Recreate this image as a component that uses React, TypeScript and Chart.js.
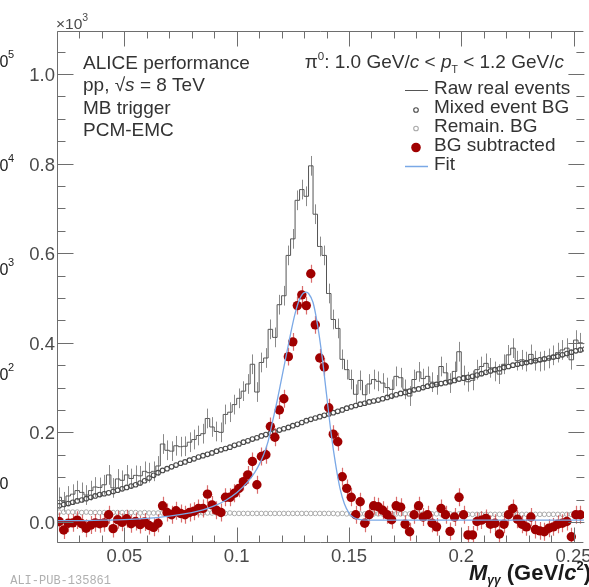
import React, { useEffect, useRef } from 'react';
import { Chart, registerables } from 'chart.js';

Chart.register(...registerables);

// ---------------- data ----------------
const MASS_MIN = 0.02; // lower edge of first bin (GeV/c^2)
const BIN_WIDTH = 0.002;
const X_MIN = 0.02;
const X_MAX = 0.2546;
const Y_MIN = -0.047;
const Y_MAX = 1.096;

const X_TICKS = [0.05, 0.1, 0.15, 0.2, 0.25];
const X_TICK_LABELS = ['0.05', '0.1', '0.15', '0.2', '0.25'];
const Y_TICKS = [0, 0.2, 0.4, 0.6, 0.8, 1.0];
const Y_TICK_LABELS = ['0.0', '0.2', '0.4', '0.6', '0.8', '1.0'];

// Raw real events (x10^3 counts) per bin
const RAW = [
  0.055, 0.045, 0.058, 0.062, 0.070, 0.066, 0.060, 0.070, 0.078, 0.077,
  0.083, 0.105, 0.076, 0.096, 0.093, 0.105, 0.097, 0.104, 0.103, 0.113,
  0.110, 0.113, 0.125, 0.174, 0.160, 0.158, 0.170, 0.168, 0.169, 0.178,
  0.184, 0.193, 0.197, 0.231, 0.212, 0.202, 0.200, 0.240, 0.245, 0.262,
  0.276, 0.292, 0.308, 0.352, 0.290, 0.356, 0.366, 0.430, 0.412, 0.485,
  0.505, 0.595, 0.632, 0.718, 0.742, 0.727, 0.795, 0.687, 0.615, 0.595,
  0.510, 0.452, 0.432, 0.363, 0.340, 0.318, 0.285, 0.316, 0.284, 0.308,
  0.318, 0.314, 0.310, 0.300, 0.296, 0.325, 0.322, 0.296, 0.281, 0.318,
  0.335, 0.320, 0.325, 0.312, 0.306, 0.347, 0.333, 0.310, 0.336, 0.380,
  0.327, 0.313, 0.316, 0.340, 0.347, 0.354, 0.344, 0.336, 0.330, 0.352,
  0.373, 0.388, 0.360, 0.362, 0.358, 0.374, 0.360, 0.358, 0.360, 0.365,
  0.372, 0.378, 0.384, 0.388, 0.362, 0.406, 0.400, 0.398,
];

// Mixed event background per bin
const MIXED = [
  0.036, 0.039, 0.041, 0.044, 0.047, 0.049, 0.052, 0.055, 0.058, 0.061,
  0.063, 0.065, 0.068, 0.071, 0.074, 0.077, 0.080, 0.083, 0.087, 0.092,
  0.098, 0.104, 0.110, 0.115, 0.119, 0.123, 0.127, 0.131, 0.134, 0.138,
  0.141, 0.145, 0.148, 0.151, 0.154, 0.158, 0.161, 0.164, 0.167, 0.171,
  0.174, 0.178, 0.181, 0.185, 0.188, 0.192, 0.195, 0.198, 0.201, 0.205,
  0.208, 0.211, 0.215, 0.218, 0.222, 0.226, 0.229, 0.232, 0.235, 0.238,
  0.241, 0.244, 0.247, 0.250, 0.254, 0.257, 0.260, 0.263, 0.265, 0.268,
  0.270, 0.272, 0.275, 0.278, 0.281, 0.284, 0.287, 0.289, 0.292, 0.295,
  0.297, 0.300, 0.303, 0.305, 0.307, 0.309, 0.311, 0.313, 0.316, 0.319,
  0.321, 0.323, 0.325, 0.328, 0.331, 0.334, 0.337, 0.340, 0.342, 0.345,
  0.347, 0.350, 0.352, 0.354, 0.356, 0.358, 0.360, 0.362, 0.364, 0.366,
  0.368, 0.370, 0.373, 0.376, 0.379, 0.382, 0.384, 0.386,
];

// Remaining background per bin
const REMAIN = [
  0.022, 0.022, 0.022, 0.022, 0.022, 0.021, 0.022, 0.021, 0.021, 0.021,
  0.021, 0.021, 0.021, 0.021, 0.021, 0.021, 0.021, 0.021, 0.020, 0.021,
  0.020, 0.020, 0.020, 0.020, 0.020, 0.020, 0.020, 0.020, 0.020, 0.020,
  0.020, 0.020, 0.020, 0.020, 0.020, 0.020, 0.020, 0.019, 0.020, 0.019,
  0.019, 0.019, 0.019, 0.019, 0.019, 0.019, 0.019, 0.019, 0.019, 0.019,
  0.019, 0.019, 0.019, 0.019, 0.019, 0.019, 0.019, 0.019, 0.019, 0.019,
  0.019, 0.019, 0.018, 0.019, 0.018, 0.018, 0.018, 0.018, 0.018, 0.018,
  0.018, 0.018, 0.018, 0.018, 0.018, 0.018, 0.018, 0.018, 0.018, 0.018,
  0.018, 0.018, 0.018, 0.018, 0.018, 0.018, 0.018, 0.018, 0.017, 0.018,
  0.017, 0.017, 0.017, 0.017, 0.017, 0.017, 0.017, 0.017, 0.017, 0.017,
  0.017, 0.017, 0.017, 0.017, 0.017, 0.017, 0.017, 0.017, 0.017, 0.017,
  0.017, 0.017, 0.017, 0.017, 0.017, 0.017, 0.017, 0.017,
];

// Background-subtracted signal per bin
const SUB = [
  0.001, -0.018, -0.003, -0.002, 0.004, -0.004, -0.014, -0.007, -0.002, -0.004,
  -0.002, 0.016, -0.015, 0.005, -0.001, 0.007, -0.004, 0.001, -0.006, 0.000,
  -0.008, -0.012, -0.003, 0.036, 0.021, 0.016, 0.025, 0.019, 0.016, 0.021,
  0.024, 0.030, 0.030, 0.062, 0.038, 0.026, 0.021, 0.055, 0.055, 0.064,
  0.075, 0.090, 0.105, 0.135, 0.083, 0.146, 0.150, 0.213, 0.189, 0.250,
  0.275, 0.369, 0.402, 0.483, 0.507, 0.483, 0.554, 0.440, 0.366, 0.346,
  0.255, 0.196, 0.179, 0.101, 0.075, 0.055, 0.016, 0.045, -0.003, 0.016,
  0.036, 0.034, 0.026, 0.016, 0.005, 0.036, 0.033, -0.005, -0.022, 0.016,
  0.036, 0.011, 0.016, -0.003, -0.011, 0.030, 0.016, -0.021, 0.011, 0.055,
  0.016, -0.029, -0.029, 0.001, 0.004, 0.008, -0.005, -0.003, -0.027, -0.005,
  0.016, 0.030, 0.006, -0.005, -0.011, 0.011, -0.017, -0.020, -0.022, -0.014,
  -0.011, -0.005, -0.003, 0.001, -0.033, 0.016, 0.016,
];

const RAW_ERR = 0.022;
const SUB_ERR = 0.02;

// Fit curve
const FIT_X = [
  0.020, 0.030, 0.040, 0.050, 0.060, 0.070, 0.080, 0.085, 0.090, 0.095,
  0.100, 0.105, 0.108, 0.110, 0.112, 0.114, 0.116, 0.118, 0.120, 0.122,
  0.124, 0.126, 0.128, 0.130, 0.131, 0.132, 0.134, 0.136, 0.138, 0.140,
  0.142, 0.144, 0.146, 0.148, 0.150, 0.152, 0.155, 0.160, 0.200, 0.2546,
];
const FIT_Y = [
  0.003, 0.003, 0.004, 0.005, 0.008, 0.013, 0.021, 0.027, 0.036, 0.048,
  0.065, 0.090, 0.110, 0.128, 0.150, 0.180, 0.225, 0.270, 0.320, 0.370,
  0.420, 0.465, 0.497, 0.512, 0.513, 0.510, 0.490, 0.440, 0.370, 0.285,
  0.200, 0.130, 0.075, 0.040, 0.020, 0.010, 0.005, 0.004, 0.004, 0.004,
];

// ---------------- helpers ----------------
const FONT = '"Liberation Sans", Arial, Helvetica, sans-serif';
const TXT = 19;
const binCenter = (i: number) => MASS_MIN + BIN_WIDTH * (i + 0.5);
const toPts = (arr: number[]) => arr.map((v, i) => ({ x: binCenter(i), y: v }));

type Part = { t: string; font: string; dy?: number };
function drawRich(ctx: CanvasRenderingContext2D, parts: Part[], x: number, y: number, align: 'left' | 'right') {
  let total = 0;
  for (const p of parts) {
    ctx.font = p.font;
    total += ctx.measureText(p.t).width;
  }
  let cx = align === 'right' ? x - total : x;
  ctx.textAlign = 'left';
  ctx.textBaseline = 'alphabetic';
  for (const p of parts) {
    ctx.font = p.font;
    ctx.fillText(p.t, cx, y + (p.dy || 0));
    cx += ctx.measureText(p.t).width;
  }
}

const errorBarPlugin = {
  id: 'errorBars',
  beforeDatasetDraw(chart: any, args: any) {
    const ds = chart.data.datasets[args.index];
    if (ds.errorBar === undefined) return;
    const ctx: CanvasRenderingContext2D = chart.ctx;
    const ys = chart.scales.y;
    const area = chart.chartArea;
    ctx.save();
    ctx.beginPath();
    ctx.rect(area.left, area.top, area.right - area.left, area.bottom - area.top);
    ctx.clip();
    ctx.strokeStyle = ds.errorBarColor;
    ctx.lineWidth = ds.errorBarWidth || 1;
    ctx.beginPath();
    args.meta.data.forEach((pt: any, i: number) => {
      const v = ds.data[i].y;
      const top = ys.getPixelForValue(v + ds.errorBar);
      const bot = ys.getPixelForValue(v - ds.errorBar);
      ctx.moveTo(Math.round(pt.x) + 0.5, top);
      ctx.lineTo(Math.round(pt.x) + 0.5, bot);
    });
    ctx.stroke();
    ctx.restore();
  },
};

const decorPlugin = {
  id: 'decor',
  afterDraw(chart: any) {
    const ctx: CanvasRenderingContext2D = chart.ctx;
    const xs = chart.scales.x;
    const ys = chart.scales.y;
    const a = chart.chartArea;
    const L = a.left + 0.5;
    const R = a.right - 0.5;
    const T = a.top + 0.5;
    const B = a.bottom - 0.5;
    ctx.save();
    // frame
    ctx.strokeStyle = '#6e6e6e';
    ctx.lineWidth = 1;
    ctx.beginPath();
    ctx.moveTo(R, T);
    ctx.lineTo(L, T);
    ctx.lineTo(L, B);
    ctx.lineTo(R, B);
    ctx.stroke();

    // x ticks (bottom + top)
    ctx.beginPath();
    for (let k = 2; k <= 25; k++) {
      const v = k / 100;
      const px = Math.round(xs.getPixelForValue(v)) + 0.5;
      const major = k % 5 === 0;
      const len = major ? 15 : 7;
      ctx.moveTo(px, B);
      ctx.lineTo(px, B - len);
      ctx.moveTo(px, T);
      ctx.lineTo(px, T + len);
    }
    // y ticks (left + right)
    for (let k = 0; k <= 21; k++) {
      const v = k * 0.05;
      const py = Math.round(ys.getPixelForValue(v)) + 0.5;
      const major = k % 4 === 0;
      const len = major ? 16 : 8;
      ctx.moveTo(L, py);
      ctx.lineTo(L + len, py);
      ctx.moveTo(R + 1, py);
      ctx.lineTo(R + 1 - len, py);
    }
    ctx.stroke();

    // tick labels
    ctx.fillStyle = '#4a4a4a';
    ctx.font = `18.5px ${FONT}`;
    ctx.textAlign = 'center';
    ctx.textBaseline = 'alphabetic';
    X_TICKS.forEach((v, i) => {
      ctx.fillText(X_TICK_LABELS[i], xs.getPixelForValue(v), 562);
    });
    ctx.textAlign = 'right';
    Y_TICKS.forEach((v, i) => {
      ctx.fillText(Y_TICK_LABELS[i], 55, ys.getPixelForValue(v) + 7);
    });

    // x10^3
    drawRich(ctx, [
      { t: '\u00d710', font: `15.5px ${FONT}` },
      { t: '3', font: `10.5px ${FONT}`, dy: -8 },
    ], 56, 28.5, 'left');

    // axis title
    ctx.fillStyle = '#1a1a1a';
    drawRich(ctx, [
      { t: 'M', font: `italic bold 22px ${FONT}` },
      { t: '\u03b3\u03b3', font: `italic bold 12px ${FONT}`, dy: 4 },
      { t: ' (GeV/', font: `bold 22px ${FONT}` },
      { t: 'c', font: `italic bold 22px ${FONT}` },
      { t: '2', font: `bold 13px ${FONT}`, dy: -10 },
      { t: ')', font: `bold 22px ${FONT}` },
    ], 591, 580, 'right');

    // labels of the neighbouring panel, cut by the picture edge
    ctx.fillStyle = '#222';
    const cut = [
      { y: 67, s: '5' },
      { y: 171, s: '4' },
      { y: 275, s: '3' },
      { y: 380, s: '2' },
      { y: 489, s: '' },
    ];
    cut.forEach((c) => {
      ctx.font = `16px ${FONT}`;
      ctx.textAlign = 'right';
      ctx.fillText('10', 8.5, c.y);
      if (c.s) {
        ctx.font = `11px ${FONT}`;
        ctx.textAlign = 'left';
        ctx.fillText(c.s, 8, c.y - 9);
      }
    });

    // publication id
    ctx.fillStyle = '#b0b0b0';
    ctx.font = `12px "Liberation Mono", "DejaVu Sans Mono", monospace`;
    ctx.textAlign = 'right';
    ctx.fillText('ALI-PUB-135861', 111, 584);

    // system text
    ctx.fillStyle = '#333';
    ctx.textAlign = 'left';
    ctx.font = `${TXT}px ${FONT}`;
    ctx.fillText('ALICE performance', 83, 68.5);
    drawRich(ctx, [
      { t: 'pp, ', font: `${TXT}px ${FONT}` },
      { t: '\u221a', font: `${TXT}px ${FONT}` },
      { t: 's', font: `italic ${TXT}px ${FONT}` },
      { t: ' = 8 TeV', font: `${TXT}px ${FONT}` },
    ], 83, 91, 'left');
    ctx.font = `${TXT}px ${FONT}`;
    ctx.fillText('MB trigger', 83, 113.5);
    ctx.fillText('PCM-EMC', 83, 136);

    // pT bin
    drawRich(ctx, [
      { t: '\u03c0', font: `${TXT}px ${FONT}` },
      { t: '0', font: `11.5px ${FONT}`, dy: -8 },
      { t: ': 1.0 GeV/', font: `${TXT}px ${FONT}` },
      { t: 'c', font: `italic ${TXT}px ${FONT}` },
      { t: ' < ', font: `${TXT}px ${FONT}` },
      { t: 'p', font: `italic ${TXT}px ${FONT}` },
      { t: 'T', font: `10.5px ${FONT}`, dy: 5 },
      { t: ' < 1.2 GeV/', font: `${TXT}px ${FONT}` },
      { t: 'c', font: `italic ${TXT}px ${FONT}` },
    ], 564, 67.5, 'right');

    // legend
    const lx = 416;
    const tx = 434;
    const rows = [93.5, 113, 132, 151, 170];
    ctx.font = `${TXT}px ${FONT}`;
    ctx.fillStyle = '#333';
    ['Raw real events', 'Mixed event BG', 'Remain. BG', 'BG subtracted', 'Fit'].forEach((t, i) => {
      ctx.fillText(t, tx, rows[i]);
    });
    // raw line
    ctx.strokeStyle = '#555';
    ctx.lineWidth = 1;
    ctx.beginPath();
    ctx.moveTo(405, 90.5);
    ctx.lineTo(428, 90.5);
    ctx.stroke();
    // mixed marker
    ctx.strokeStyle = '#4a4a4a';
    ctx.lineWidth = 1.1;
    ctx.beginPath();
    ctx.arc(lx, 110, 2.3, 0, Math.PI * 2);
    ctx.stroke();
    // remain marker
    ctx.strokeStyle = '#aaaaaa';
    ctx.beginPath();
    ctx.arc(lx, 128.5, 2.3, 0, Math.PI * 2);
    ctx.stroke();
    // sub marker
    ctx.fillStyle = '#a00000';
    ctx.beginPath();
    ctx.arc(lx, 147.5, 4.8, 0, Math.PI * 2);
    ctx.fill();
    // fit line
    ctx.strokeStyle = '#7aa8e6';
    ctx.lineWidth = 1.5;
    ctx.beginPath();
    ctx.moveTo(405, 166.5);
    ctx.lineTo(428, 166.5);
    ctx.stroke();

    ctx.restore();
  },
};

export default function App() {
  const ref = useRef<HTMLCanvasElement | null>(null);

  useEffect(() => {
    document.body.style.margin = '0';
    const canvas = ref.current;
    if (!canvas) return;
    const chart = new Chart(canvas, {
      type: 'line',
      data: {
        datasets: [
          {
            label: 'Fit',
            data: FIT_X.map((x, i) => ({ x, y: FIT_Y[i] })),
            borderColor: '#7aa8e6',
            borderWidth: 1.3,
            pointRadius: 0,
            cubicInterpolationMode: 'monotone',
            fill: false,
            order: 0,
          } as any,
          {
            label: 'BG subtracted',
            data: toPts(SUB),
            showLine: false,
            pointRadius: 4.7,
            pointBackgroundColor: '#a00000',
            pointBorderColor: '#a00000',
            pointBorderWidth: 0,
            errorBar: SUB_ERR,
            errorBarColor: 'rgba(205,60,60,0.75)',
            errorBarWidth: 1.2,
            order: 1,
          } as any,
          {
            label: 'Remain. BG',
            data: toPts(REMAIN),
            showLine: false,
            pointRadius: 2.3,
            pointBackgroundColor: 'rgba(0,0,0,0)',
            pointBorderColor: '#aaaaaa',
            pointBorderWidth: 1,
            order: 2,
          } as any,
          {
            label: 'Mixed event BG',
            data: toPts(MIXED),
            showLine: false,
            pointRadius: 2.3,
            pointBackgroundColor: 'rgba(0,0,0,0)',
            pointBorderColor: '#4a4a4a',
            pointBorderWidth: 1.1,
            order: 3,
          } as any,
          {
            label: 'Raw real events',
            data: toPts(RAW),
            stepped: 'middle',
            borderColor: '#555555',
            borderWidth: 1,
            pointRadius: 0,
            fill: false,
            errorBar: RAW_ERR,
            errorBarColor: '#8a8a8a',
            errorBarWidth: 1,
            order: 4,
          } as any,
        ],
      },
      options: {
        responsive: false,
        animation: false,
        devicePixelRatio: 1,
        layout: { padding: { left: 57, top: 31, right: 0, bottom: 44 } },
        scales: {
          x: { type: 'linear', min: X_MIN, max: X_MAX, display: false },
          y: { type: 'linear', min: Y_MIN, max: Y_MAX, display: false },
        },
        plugins: {
          legend: { display: false },
          tooltip: { enabled: false },
        },
        events: [],
      },
      plugins: [errorBarPlugin, decorPlugin],
    });
    return () => chart.destroy();
  }, []);

  return (
    <div style={{ width: 589, height: 587, background: '#fff' }}>
      <canvas ref={ref} width={589} height={587} style={{ display: 'block' }} />
    </div>
  );
}
